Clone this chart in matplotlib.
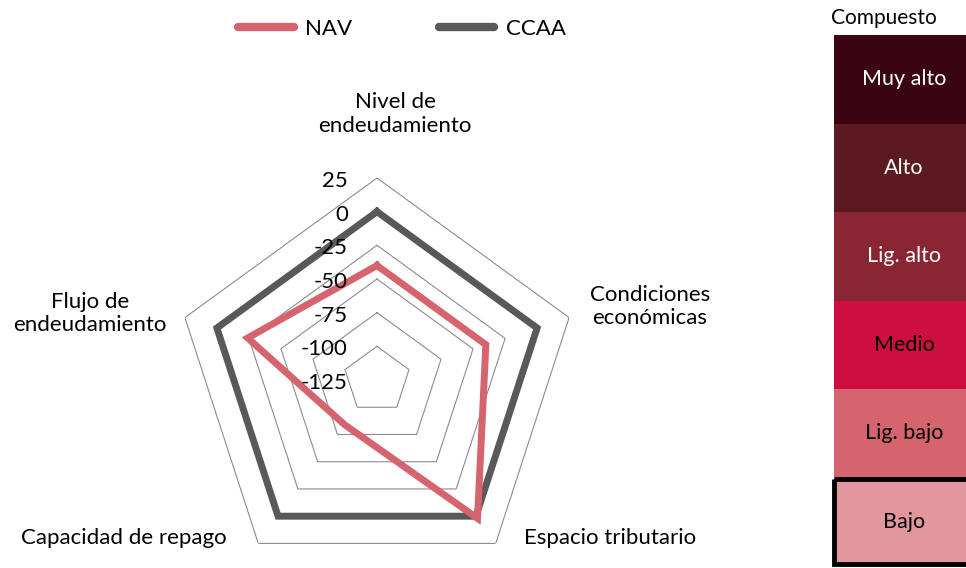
import numpy as np
import matplotlib
matplotlib.use("Agg")
import matplotlib.pyplot as plt
from matplotlib.patches import Rectangle

plt.rcParams['font.family'] = ['Lato', 'DejaVu Sans']

categories = ["Nivel de\nendeudamiento", "Condiciones\neconómicas", "Espacio tributario",
              "Capacidad de repago", "Flujo de\nendeudamiento"]
nav = [-40, -40, 2, -84, -24]
ccaa = [0, 0, 0, 0, 0]
ticks = [25, 0, -25, -50, -75, -100, -125]
levels = ["Muy alto", "Alto", "Lig. alto", "Medio", "Lig. bajo", "Bajo"]
level_colors = ["#3b0412", "#5b1922", "#8a2533", "#cd0f40", "#d6646f", "#e2979f"]
level_text = ["white", "white", "white", "black", "black", "black"]
highlight = "Bajo"

W, H = 966, 568
fig = plt.figure(figsize=(W / 100, H / 100), dpi=100)

cx, cy, R = 377, 380, 202
ax = fig.add_axes([(cx - R) / W, (H - cy - R) / H, 2 * R / W, 2 * R / H], polar=True)
ax.set_theta_offset(np.pi / 2)
ax.set_theta_direction(-1)
ax.set_ylim(ticks[-1], ticks[0])
ax.axis('off')

n = len(categories)
theta = np.arange(n) * 2 * np.pi / n
theta_c = np.append(theta, theta[0])

for t in ticks[:-1]:
    ax.plot(theta_c, [t] * (n + 1), color="#8c8c8c", lw=0.8, zorder=1)

ax.plot(theta_c, ccaa + [ccaa[0]], color="#595959", lw=5, zorder=3,
        solid_joinstyle='miter', label="CCAA")
ax.plot(theta_c, nav + [nav[0]], color="#d6646f", lw=5, zorder=4,
        solid_joinstyle='miter', label="NAV")

fs = 16
for t in ticks:
    ax.annotate(str(t), xy=(0, t), xytext=(-29, -3), textcoords='offset pixels',
                ha='right', va='center', fontsize=fs, color='black', zorder=5)

offsets = [(18, 64), (81, 11), (114, 5), (-134, 5), (-95, 4)]
for th, lab, (dx, dy) in zip(theta, categories, offsets):
    ax.annotate(lab, xy=(th, ticks[0]), xytext=(dx, dy), textcoords='offset pixels',
                ha='center', va='center', fontsize=fs, multialignment='center',
                annotation_clip=False)

handles, labs = ax.get_legend_handles_labels()
order = [1, 0]
leg = fig.legend([handles[i] for i in order], [labs[i] for i in order],
                 loc='center', bbox_to_anchor=(402 / W, 1 - 29 / H), ncol=2,
                 frameon=False, fontsize=fs, handlelength=2.5, handletextpad=0.5,
                 columnspacing=3.9)
for lh in leg.get_lines():
    lh.set_linewidth(6)
    lh.set_solid_capstyle('round')

# Composite panel
px0, px1, ptop, pbot = 834, 966, 35, 566
pax = fig.add_axes([px0 / W, (H - pbot) / H, (px1 - px0) / W, (pbot - ptop) / H])
pax.set_xlim(0, 1)
pax.set_ylim(len(levels), 0)
pax.axis('off')
for i, (lv, c, tc) in enumerate(zip(levels, level_colors, level_text)):
    pax.add_patch(Rectangle((0, i), 1.2, 1, facecolor=c, edgecolor='none', clip_on=False))
    pax.text(0.53, i + 0.5, lv, ha='center', va='center', color=tc, fontsize=15.5)
    if lv == highlight:
        pax.add_patch(Rectangle((0, i + 0.02), 1.2, 0.96, facecolor='none',
                                edgecolor='black', lw=3.5, clip_on=False))
pax.text(0.38, -0.19, "Compuesto", ha='center', va='center', fontsize=15)

fig.savefig("out.png", dpi=100)
